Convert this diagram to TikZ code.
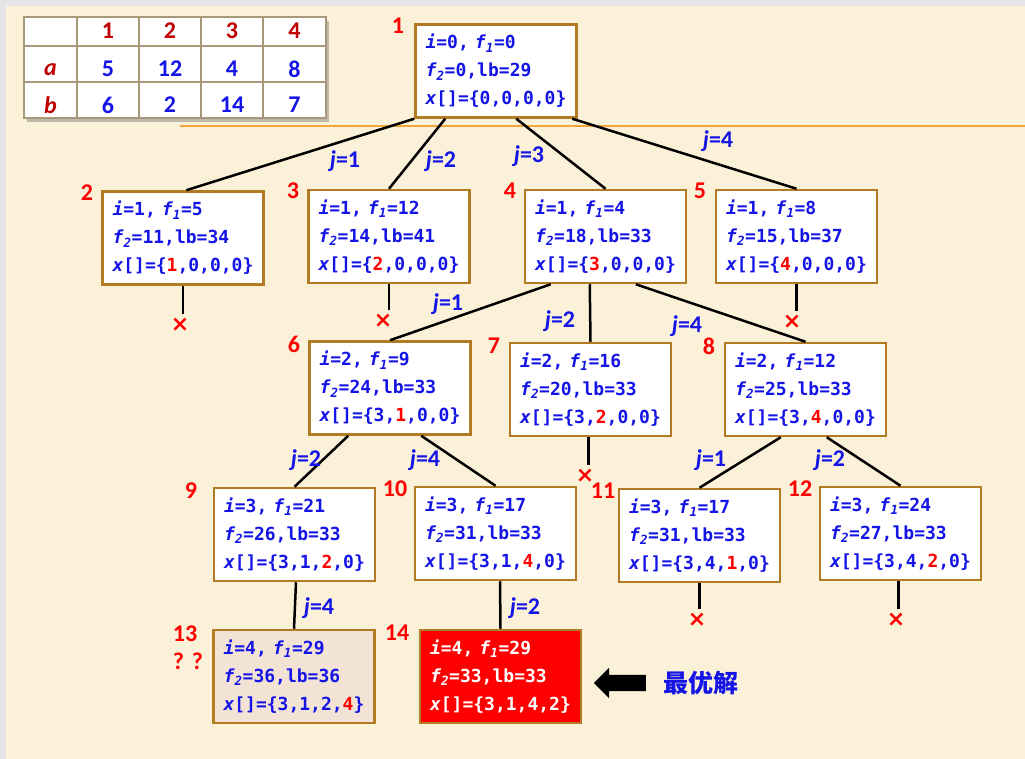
\documentclass[tikz,border=0pt]{standalone}
\usepackage{fontspec}
\setmainfont{Carlito}
\newfontfamily\mono{DejaVu Sans Mono}
\newfontfamily\dsans{DejaVu Sans}
\newfontfamily\cjk{Noto Sans CJK SC}
\usetikzlibrary{shapes.arrows,shadows}
\definecolor{bgcream}{HTML}{FBF1D8}
\definecolor{bggray}{HTML}{E4E4E4}
\definecolor{boxbrown}{HTML}{B47B25}
\definecolor{xblue}{HTML}{1414E6}
\definecolor{xred}{HTML}{FF0000}
\definecolor{dred}{HTML}{C00000}
\definecolor{orline}{HTML}{F2A53A}
\definecolor{tabgray}{HTML}{A8987A}
\definecolor{lightbox}{HTML}{F2E3D5}
\newcommand{\fs}[1]{\textit{f}\textsubscript{\textit{#1}}}
\newcommand{\rd}[1]{\textcolor{xred}{#1}}
\tikzset{
  box/.style={draw=boxbrown, line width=2.5pt, fill=white, minimum width=161pt, minimum height=93pt,
    text width=141pt, inner xsep=10pt, inner ysep=0pt, align=left,
    font=\mono\bfseries\fontsize{18}{28}\selectfont, text=xblue},
  num/.style={text=xred, font=\bfseries\fontsize{24}{24}\selectfont, inner sep=0pt},
  jl/.style={text=xblue, font=\bfseries\fontsize{24}{24}\selectfont, inner sep=0pt},
  edge/.style={black, line width=2.5pt},
  cross/.style={text=xred, font=\dsans\bfseries\fontsize{22}{22}\selectfont, inner sep=1pt},
  thead/.style={text=dred, font=\bfseries\fontsize{24}{24}\selectfont, inner sep=0pt},
  tval/.style={text=xblue, font=\bfseries\fontsize{24}{24}\selectfont, inner sep=0pt},
  tline/.style={draw=tabgray, line width=1.2pt}
}
\begin{document}
\begin{tikzpicture}[x=1pt,y=-1pt]
\useasboundingbox (0,0) rectangle (1025,759);
\fill[bggray] (0,0) rectangle (1025,759);
\fill[bgcream] (6,6) rectangle (1025,759);
\draw[orline, line width=2pt] (180,126) -- (1025,126);
% table
\node[draw=tabgray, line width=1.2pt, fill=white, minimum width=302pt, minimum height=101pt, inner sep=0pt,
  drop shadow={shadow xshift=3pt, shadow yshift=-4pt, opacity=0.4, fill=black!60}] (tbl) at (175,67.5) {};
\foreach \cx in {77,139,201,263} \draw[tline] (\cx,17) -- (\cx,118);
\foreach \ry in {46,82} \draw[tline] (24,\ry) -- (326,\ry);
\node[thead] (h1) at (108,31) {1};
\node[thead] (h2) at (170,31) {2};
\node[thead] (h3) at (232,31) {3};
\node[thead] (h4) at (294.5,31) {4};
\node[thead] (ra) at (50.5,70) {\textit{a}};
\node[tval] (a1) at (108,69) {5};
\node[tval] (a2) at (170,69) {12};
\node[tval] (a3) at (232,69) {4};
\node[tval] (a4) at (294.5,69) {8};
\node[thead] (rb) at (50.5,105) {\textit{b}};
\node[tval] (b1) at (108,105) {6};
\node[tval] (b2) at (170,105) {2};
\node[tval] (b3) at (232,105) {14};
\node[tval] (b4) at (294.5,105) {7};
% boxes
\node[box] (n1) at (496,71) {\textit{i}=0, \fs{1}=0\\\fs{2}=0,lb=29\\\textit{x}[]=\{0,0,0,0\}};
\node[box] (n2) at (183,238) {\textit{i}=1, \fs{1}=5\\\fs{2}=11,lb=34\\\textit{x}[]=\{\rd{1},0,0,0\}};
\node[box] (n3) at (389,236.5) {\textit{i}=1, \fs{1}=12\\\fs{2}=14,lb=41\\\textit{x}[]=\{\rd{2},0,0,0\}};
\node[box] (n4) at (605.5,236.5) {\textit{i}=1, \fs{1}=4\\\fs{2}=18,lb=33\\\textit{x}[]=\{\rd{3},0,0,0\}};
\node[box] (n5) at (796.5,236.5) {\textit{i}=1, \fs{1}=8\\\fs{2}=15,lb=37\\\textit{x}[]=\{\rd{4},0,0,0\}};
\node[box] (n6) at (390,388) {\textit{i}=2, \fs{1}=9\\\fs{2}=24,lb=33\\\textit{x}[]=\{3,\rd{1},0,0\}};
\node[box] (n7) at (590.5,389.5) {\textit{i}=2, \fs{1}=16\\\fs{2}=20,lb=33\\\textit{x}[]=\{3,\rd{2},0,0\}};
\node[box] (n8) at (805.5,389.5) {\textit{i}=2, \fs{1}=12\\\fs{2}=25,lb=33\\\textit{x}[]=\{3,\rd{4},0,0\}};
\node[box] (n9) at (294.5,534.5) {\textit{i}=3, \fs{1}=21\\\fs{2}=26,lb=33\\\textit{x}[]=\{3,1,\rd{2},0\}};
\node[box] (n10) at (495.5,533.5) {\textit{i}=3, \fs{1}=17\\\fs{2}=31,lb=33\\\textit{x}[]=\{3,1,\rd{4},0\}};
\node[box] (n11) at (699.5,535.5) {\textit{i}=3, \fs{1}=17\\\fs{2}=31,lb=33\\\textit{x}[]=\{3,4,\rd{1},0\}};
\node[box] (n12) at (900.5,533.5) {\textit{i}=3, \fs{1}=24\\\fs{2}=27,lb=33\\\textit{x}[]=\{3,4,\rd{2},0\}};
\node[box, fill=lightbox] (n13) at (294,676.5) {\textit{i}=4, \fs{1}=29\\\fs{2}=36,lb=36\\\textit{x}[]=\{3,1,2,\rd{4}\}};
\node[box, fill=xred, text=white] (n14) at (500.5,676.5) {\textit{i}=4, \fs{1}=29\\\fs{2}=33,lb=33\\\textit{x}[]=\{3,1,4,2\}};
% node numbers
\node[num] (l1) at (398,26) {1};
\node[num] (l2) at (87,193) {2};
\node[num] (l3) at (293,191) {3};
\node[num] (l4) at (510,191) {4};
\node[num] (l5) at (700,191) {5};
\node[num] (l6) at (294,344) {6};
\node[num] (l7) at (494,346) {7};
\node[num] (l8) at (709,346) {8};
\node[num] (l9) at (191,491) {9};
\node[num] (l10) at (395,489) {10};
\node[num] (l11) at (603,491) {11};
\node[num] (l12) at (800,489) {12};
\node[num] (l13) at (185,634) {13};
\node[num] (l14) at (397,633) {14};
\node[num] (qq) at (188,661) {?\,\,?};
% crosses
\node[cross] (x2) at (180,325) {×};
\node[cross] (x3) at (383,321) {×};
\node[cross] (x5) at (792,322) {×};
\node[cross] (x7) at (585,476) {×};
\node[cross] (x11) at (697,620) {×};
\node[cross] (x12) at (896,620) {×};
% edges
\draw[edge] (n1.south west) -- ([xshift=85pt]n2.north west);
\draw[edge] ([xshift=31pt]n1.south west) -- (n3.north);
\draw[edge] ([xshift=102pt]n1.south west) -- (n4.north);
\draw[edge] ([xshift=158pt]n1.south west) -- (n5.north);
\draw[edge] ([xshift=27pt]n4.south west) -- (n6.north);
\draw[edge] ([xshift=66pt]n4.south west) -- (n7.north);
\draw[edge] ([xshift=112pt]n4.south west) -- (n8.north);
\draw[edge] ([xshift=40pt]n6.south west) -- (n9.north);
\draw[edge] ([xshift=113pt]n6.south west) -- (n10.north);
\draw[edge] ([xshift=57pt]n8.south west) -- (n11.north);
\draw[edge] ([xshift=103pt]n8.south west) -- (n12.north);
\draw[edge] ([xshift=1.5pt]n9.south) -- (n13.north);
\draw[edge] ([xshift=4.5pt]n10.south) -- (n14.north);
\draw[edge, shorten >=3pt] (n2.south) -- (n2.south |- x2.north);
\draw[edge, shorten >=3pt] (n3.south) -- (n3.south |- x3.north);
\draw[edge, shorten >=3pt] (n5.south) -- (n5.south |- x5.north);
\draw[edge, shorten >=3pt] ([xshift=-2pt]n7.south) -- ([xshift=-2pt]n7.south |- x7.north);
\draw[edge, shorten >=3pt] (n11.south) -- (n11.south |- x11.north);
\draw[edge, shorten >=3pt] ([xshift=-2pt]n12.south) -- ([xshift=-2pt]n12.south |- x12.north);
% j labels
\node[jl] (j1) at (345,161) {\textit{j}=1};
\node[jl] (j2) at (441,161) {\textit{j}=2};
\node[jl] (j3) at (529,156) {\textit{j}=3};
\node[jl] (j4) at (718,141) {\textit{j}=4};
\node[jl] (j5) at (448,304) {\textit{j}=1};
\node[jl] (j6) at (560,321) {\textit{j}=2};
\node[jl] (j7) at (687,326) {\textit{j}=4};
\node[jl] (j8) at (306,460) {\textit{j}=2};
\node[jl] (j9) at (425,460) {\textit{j}=4};
\node[jl] (j10) at (711,460) {\textit{j}=1};
\node[jl] (j11) at (830,460) {\textit{j}=2};
\node[jl] (j12) at (319,608) {\textit{j}=4};
\node[jl] (j13) at (525,608) {\textit{j}=2};
% arrow and label
\node[single arrow, shape border rotate=180, fill=black, draw=none, minimum height=52pt,
  single arrow head extend=7pt, inner sep=8pt] (arr) at (624,683) {};
\node[text=xblue, font=\cjk\bfseries\fontsize{25}{25}\selectfont, inner sep=0pt] (best) at (701,683) {最优解};
\end{tikzpicture}
\end{document}
